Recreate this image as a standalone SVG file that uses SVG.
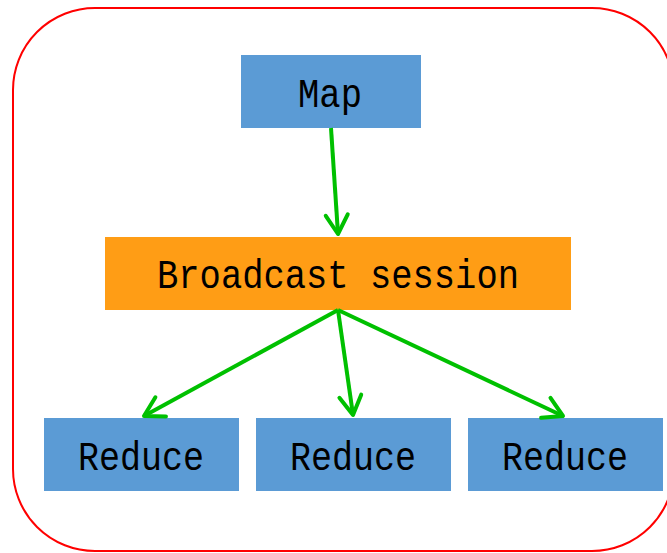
<svg xmlns="http://www.w3.org/2000/svg" width="667" height="553" viewBox="0 0 667 553">
<style>
.blue{fill:#5B9BD5}
.orange{fill:#FF9D15}
.lbl{font-family:"Liberation Mono","DejaVu Sans Mono",monospace;font-size:40px;fill:#000;text-anchor:middle}
.conn line{stroke:#00C000;stroke-width:4;fill:none}
</style>
<defs>
<marker id="arr" markerUnits="userSpaceOnUse" markerWidth="30" markerHeight="30" viewBox="-25 -15 30 30" refX="0" refY="0" orient="auto">
<path d="M-19,-11 L0,0 L-19,11" fill="none" stroke="#00C000" stroke-width="4" stroke-linecap="round" stroke-linejoin="round"/>
</marker>
</defs>
<rect x="13" y="8" width="661" height="543" rx="82" ry="82" fill="#FFFFFF" stroke="#FF0000" stroke-width="2"/>
<g id="map">
<rect class="blue" x="241" y="55" width="180" height="73"/>
<text class="lbl" x="330" y="107" textLength="64" lengthAdjust="spacingAndGlyphs">Map</text>
</g>
<g id="broadcast">
<rect class="orange" x="105" y="237" width="466" height="73"/>
<text class="lbl" x="338" y="288" textLength="362" lengthAdjust="spacingAndGlyphs">Broadcast session</text>
</g>
<g id="reduce1">
<rect class="blue" x="44" y="418" width="195" height="73"/>
<text class="lbl" x="141" y="470" textLength="126" lengthAdjust="spacingAndGlyphs">Reduce</text>
</g>
<g id="reduce2">
<rect class="blue" x="256" y="418" width="195" height="73"/>
<text class="lbl" x="353" y="470" textLength="126" lengthAdjust="spacingAndGlyphs">Reduce</text>
</g>
<g id="reduce3">
<rect class="blue" x="468" y="418" width="195" height="73"/>
<text class="lbl" x="565" y="470" textLength="126" lengthAdjust="spacingAndGlyphs">Reduce</text>
</g>
<g class="conn">
<line x1="331" y1="128" x2="338" y2="234" marker-end="url(#arr)"/>
<line x1="338" y1="310" x2="144" y2="416" marker-end="url(#arr)"/>
<line x1="338" y1="310" x2="353" y2="415" marker-end="url(#arr)"/>
<line x1="338" y1="310" x2="563" y2="416" marker-end="url(#arr)"/>
</g>
</svg>
